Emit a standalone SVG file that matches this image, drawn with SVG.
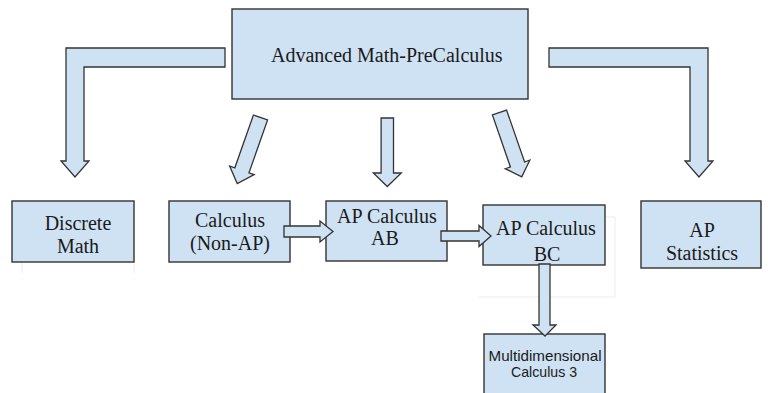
<svg xmlns="http://www.w3.org/2000/svg" width="768" height="393" viewBox="0 0 768 393">
<style>
.box{fill:#cfe2f3;stroke:#333333;stroke-width:1.4}
.arr{fill:#cfe2f3;stroke:#333333;stroke-width:1.3;stroke-linejoin:miter}
.t{font-family:"Liberation Serif","Times New Roman",serif;font-size:20px;fill:#1a1a1a;text-anchor:middle}
.s{font-family:"Liberation Sans",Arial,sans-serif;font-size:15px;fill:#1a1a1a;text-anchor:middle}
.faint{fill:none;stroke:#ededed;stroke-width:1}
</style>
<rect width="768" height="393" fill="#ffffff"/>
<g id="artifacts">
<path class="faint" d="M22,262V273M134,262V273"/>
<path class="faint" d="M605,217H615V297H479"/>
</g>
<g id="node-precalc">
<rect class="box" x="232" y="9" width="296" height="90"/>
<text class="t" x="271" y="62" style="text-anchor:start">Advanced Math-PreCalculus</text>
</g>
<g id="node-discrete">
<rect class="box" x="12" y="201" width="122" height="61"/>
<text class="t" x="78" y="230">Discrete</text>
<text class="t" x="78" y="253">Math</text>
</g>
<g id="node-calculus">
<rect class="box" x="169" y="201" width="121" height="61"/>
<text class="t" x="230" y="227">Calculus</text>
<text class="t" x="230" y="250">(Non-AP)</text>
</g>
<g id="node-ab">
<rect class="box" x="326" y="201" width="121" height="60"/>
<text class="t" x="387" y="223">AP Calculus</text>
<text class="t" x="385" y="245">AB</text>
</g>
<g id="node-bc">
<rect class="box" x="483" y="205" width="122" height="60"/>
<text class="t" x="546" y="235">AP Calculus</text>
<text class="t" x="547" y="261">BC</text>
</g>
<g id="node-stats">
<rect class="box" x="641" y="201" width="120" height="67"/>
<text class="t" x="702" y="237">AP</text>
<text class="t" x="702" y="260">Statistics</text>
</g>
<g id="node-multi">
<rect class="box" x="484" y="334" width="121" height="70"/>
<text class="s" x="545" y="361" textLength="113" lengthAdjust="spacingAndGlyphs">Multidimensional</text>
<text class="s" x="544" y="377" textLength="66" lengthAdjust="spacingAndGlyphs">Calculus 3</text>
</g>
<g id="connectors">
<polygon class="arr" points="225,48 66,48 66,161 61,161 75,177 89,161 84,161 84,67 225,67"/>
<polygon class="arr" points="549,48 708,48 708,161 713,161 699,177 685,161 690,161 690,67 549,67"/>
<polygon class="arr" transform="translate(260.5,117.5) rotate(19.4)" points="-7.5,0 7.5,0 7.5,56 13,56 0,70 -13,56 -7.5,56"/>
<polygon class="arr" transform="translate(387.3,118)" points="-6.2,0 6.2,0 6.2,55 14,55 0,68.5 -14,55 -6.2,55"/>
<polygon class="arr" transform="translate(499.5,112.5) rotate(-19.1)" points="-7.5,0 7.5,0 7.5,55 13,55 0,68 -13,55 -7.5,55"/>
<polygon class="arr" points="284,226 320,226 320,221 333,231.5 320,242 320,237 284,237"/>
<polygon class="arr" points="441,231 479,231 479,225.5 491,236 479,246.5 479,241 441,241"/>
<polygon class="arr" points="539,264 550,264 550,325 556,325 545,336 533,325 539,325"/>
</g>
</svg>
